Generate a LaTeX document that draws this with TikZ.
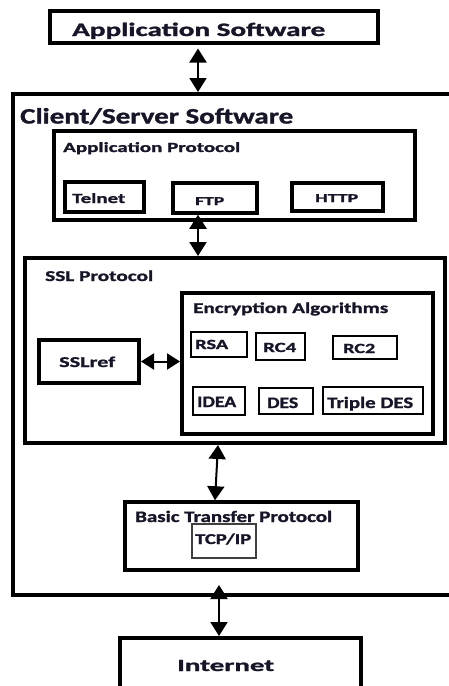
\documentclass[tikz,border=0pt]{standalone}
\usepackage{fontspec}
\setmainfont{Carlito}[BoldFeatures={FakeBold=1.2}]
\usepackage{graphicx}
\usetikzlibrary{arrows.meta}
% set a label to an exact width while keeping its natural height
\newcommand\fitw[2]{\resizebox{#1pt}{\height}{#2}}
\definecolor{ink}{RGB}{22,22,40}
\begin{document}
\begin{tikzpicture}[x=1pt,y=-1pt,
  box/.style={draw=black, line width=#1, inner sep=0pt, fill=none},
  box/.default=3.5pt,
  thinbox/.style={draw=black!75, line width=1.6pt, inner sep=0pt},
  lbl/.style={inner sep=0pt, anchor=base west, text=ink},
  dbl/.style={line width=2pt, {Triangle[width=17pt,length=14pt]}-{Triangle[width=17pt,length=14pt]}},
  dblh/.style={line width=2pt, {Triangle[width=16pt,length=13pt]}-{Triangle[width=16pt,length=13pt]}}
]
\useasboundingbox (0,0) rectangle (449,686);
\begin{scope}
\clip (0,0) rectangle (449,686);

% top and bottom end boxes
\node[box=4pt, minimum width=328pt, minimum height=32pt] (appsw) at (214,26.5) {};
\node[box=4pt, minimum width=241pt, minimum height=62pt] (inet) at (240.5,669) {};

% client/server container (its right side runs past the page edge)
\node[box=4pt, minimum width=442pt, minimum height=501pt] (cs) at (234,344.5) {};

% application protocol layer
\node[box=3.5pt, minimum width=361pt, minimum height=89pt] (approto) at (234.5,175.5) {};
\node[box=3.5pt, minimum width=79pt, minimum height=30pt] (telnet) at (104.5,197) {};
\node[box=3.5pt, minimum width=84pt, minimum height=30pt] (ftp) at (215,198) {};
\node[box=3.5pt, minimum width=91pt, minimum height=28pt] (http) at (337.5,197) {};

% SSL layer
\node[box=4pt, minimum width=420pt, minimum height=185pt] (ssl) at (235,350.5) {};
\node[box=4pt, minimum width=100pt, minimum height=43pt] (sslref) at (89,361.5) {};
\node[box=4pt, minimum width=251pt, minimum height=141pt] (enc) at (307.5,363.5) {};
\node[box=2pt, minimum width=56pt, minimum height=25pt] (rsa) at (219,344.5) {};
\node[box=2pt, minimum width=49pt, minimum height=27pt] (rc4) at (280.5,346.5) {};
\node[box=2pt, minimum width=64pt, minimum height=23pt] (rc2) at (365,347.5) {};
\node[box=2pt, minimum width=52pt, minimum height=28pt] (idea) at (219,401) {};
\node[box=2pt, minimum width=54pt, minimum height=26pt] (des) at (286,401) {};
\node[box=2pt, minimum width=100pt, minimum height=27pt] (tdes) at (373,400.5) {};

% transport layer
\node[box=3.5pt, minimum width=233pt, minimum height=68pt] (btp) at (241.5,536) {};
\node[thinbox, minimum width=64pt, minimum height=34pt] (tcpip) at (224,541) {};
\end{scope}

% labels
\node[lbl, font=\fontsize{19}{22}\selectfont\bfseries] (t-appsw) at (72,36) {\fitw{253}{Application Software}};
\node[lbl, font=\fontsize{22}{26}\selectfont\bfseries] (t-cs) at (20,123.5) {\fitw{273}{Client/Server Software}};
\node[lbl, font=\fontsize{14}{17}\selectfont\bfseries] (t-approto) at (63,152) {\fitw{177}{Application Protocol}};
\node[lbl, font=\fontsize{14}{17}\selectfont\bfseries] (t-telnet) at (72,203) {\fitw{53}{Telnet}};
\node[lbl, font=\fontsize{12}{14}\selectfont\bfseries] (t-ftp) at (195,205) {\fitw{29}{FTP}};
\node[lbl, font=\fontsize{12}{14}\selectfont\bfseries] (t-http) at (315,202) {\fitw{43}{HTTP}};
\node[lbl, font=\fontsize{15}{18}\selectfont\bfseries] (t-ssl) at (45,281) {\fitw{108}{SSL Protocol}};
\node[lbl, font=\fontsize{15}{18}\selectfont\bfseries] (t-enc) at (193,313) {\fitw{195}{Encryption Algorithms}};
\node[lbl, font=\fontsize{14}{17}\selectfont\bfseries] (t-rsa) at (195,349) {\fitw{33}{RSA}};
\node[lbl, font=\fontsize{14}{17}\selectfont\bfseries] (t-rc4) at (263,352) {\fitw{33}{RC4}};
\node[lbl, font=\fontsize{14}{17}\selectfont\bfseries] (t-rc2) at (343,353) {\fitw{32}{RC2}};
\node[lbl, font=\fontsize{16}{19}\selectfont\bfseries] (t-idea) at (197,407) {\fitw{39}{IDEA}};
\node[lbl, font=\fontsize{16}{19}\selectfont\bfseries] (t-des) at (267,408) {\fitw{31}{DES}};
\node[lbl, font=\fontsize{16}{19}\selectfont\bfseries] (t-tdes) at (327,408) {\fitw{86}{Triple DES}};
\node[lbl, font=\fontsize{15}{18}\selectfont\bfseries] (t-sslref) at (59,367) {\fitw{56}{SSLref}};
\node[lbl, font=\fontsize{16}{19}\selectfont\bfseries] (t-btp) at (135,522) {\fitw{197}{Basic Transfer Protocol}};
\node[lbl, font=\fontsize{15}{18}\selectfont\bfseries] (t-tcpip) at (195,544) {\fitw{56}{TCP/IP}};
\node[lbl, font=\fontsize{17}{20}\selectfont\bfseries] (t-inet) at (177,671) {\fitw{97}{Internet}};

% connectors between layers
\draw[dbl, shorten <=4pt] ([xshift=-16pt]appsw.south) -- ([xshift=-16pt]appsw.south |- cs.north);
\draw[dbl] ([xshift=-17pt]ftp.south) -- ([xshift=-17pt]ftp.south |- ssl.north);
\draw[dblh] (sslref.east) -- (sslref.east -| enc.west);
\draw[dbl] ([xshift=-17pt]ssl.south) -- ([xshift=-26.5pt]btp.north);
\draw[dbl, shorten <=-12pt] ([xshift=-21.5pt]inet.north |- cs.south) -- ([xshift=-21.5pt]inet.north);
\end{tikzpicture}
\end{document}
